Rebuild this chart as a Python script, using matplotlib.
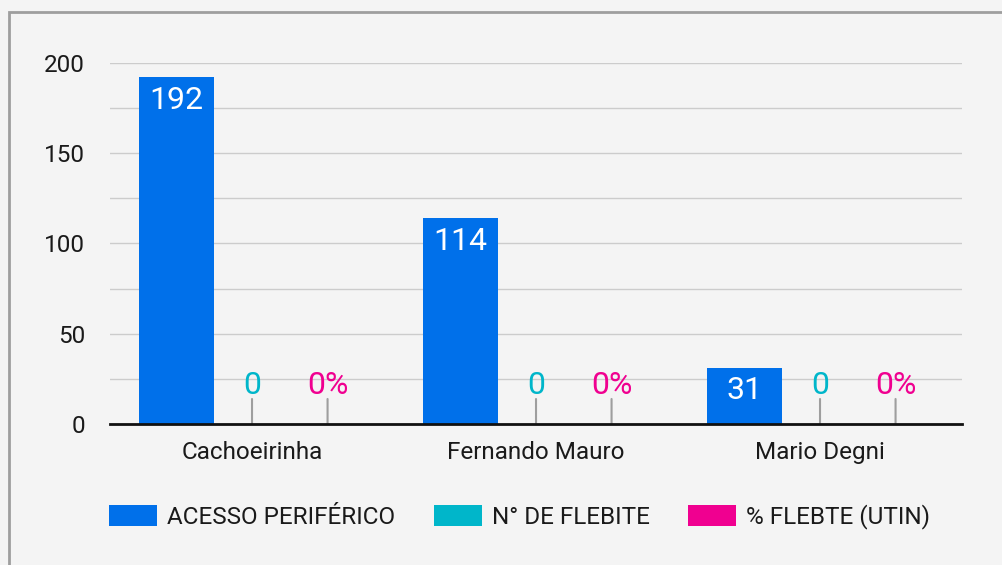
import numpy as np
import matplotlib.pyplot as plt
from matplotlib.patches import Rectangle

plt.rcParams['font.family'] = ['Roboto', 'DejaVu Sans']

# data
categories = ['Cachoeirinha', 'Fernando Mauro', 'Mario Degni']
acesso = [192, 114, 31]
n_flebite = [0, 0, 0]
pct_flebite = [0, 0, 0]

series = [
    ('ACESSO PERIFÉRICO', acesso, '#0070ea', '{:.0f}'),
    ('N° DE FLEBITE', n_flebite, '#00b6ca', '{:.0f}'),
    ('% FLEBTE (UTIN)', pct_flebite, '#f00090', '{:.0f}%'),
]

bg = '#f4f4f4'
fig = plt.figure(figsize=(10.02, 5.65), dpi=100, facecolor=bg)
ax = fig.add_axes([0.1098, 0.2496, 0.8503, 0.639])
ax.set_facecolor(bg)

# outer border of the chart card
fig.patches.append(Rectangle((0.009, -0.05), 1.2, 0.979 + 0.05, transform=fig.transFigure,
                             fill=False, edgecolor='#9e9e9e', linewidth=2))

x = np.arange(len(categories))
width = 0.265
offsets = [-0.266, 0.0, 0.266]

for (name, vals, color, fmt), off in zip(series, offsets):
    bars = ax.bar(x + off, vals, width, color=color, label=name, zorder=3)
    for xi, v in zip(x + off, vals):
        if v > 0:
            ax.annotate(fmt.format(v), xy=(xi, v), xytext=(0, -16.5), textcoords='offset points',
                        ha='center', va='center', fontsize=23, color='white', zorder=4)
        else:
            ax.annotate('', xy=(xi, 0), xytext=(0, 18), textcoords='offset points',
                        arrowprops=dict(arrowstyle='-', color='#9e9e9e', lw=1.5,
                                        shrinkA=0, shrinkB=0), zorder=4)
            ax.annotate(fmt.format(v), xy=(xi, 0), xytext=(0, 27.5), textcoords='offset points',
                        ha='center', va='center', fontsize=23, color=color, zorder=4)

ax.set_xlim(-0.5, 2.5)
ax.set_ylim(0, 200)
ax.set_yticks(np.arange(0, 201, 50))
ax.set_yticks(np.arange(25, 200, 50), minor=True)
ax.set_xticks(x)
ax.set_xticklabels(categories)
ax.grid(axis='y', which='both', color='#cccccc', linewidth=1, zorder=0)
ax.tick_params(axis='y', which='both', length=0, pad=18, labelsize=17.5, labelcolor='#1a1a1a')
ax.tick_params(axis='x', length=0, pad=12, labelsize=17.5, labelcolor='#1a1a1a')
for s in ['top', 'right', 'left']:
    ax.spines[s].set_visible(False)
ax.spines['bottom'].set_color('#111111')
ax.spines['bottom'].set_linewidth(2)
ax.spines['bottom'].set_zorder(5)

fig.legend(loc='center', bbox_to_anchor=(0.5185, 1 - 517 / 565), ncol=3, frameon=False,
           fontsize=17.5, handlelength=1.97, handleheight=1.0, handletextpad=0.41,
           columnspacing=1.6, labelcolor='#1a1a1a')

fig.savefig('out.png', dpi=100, facecolor=bg)
